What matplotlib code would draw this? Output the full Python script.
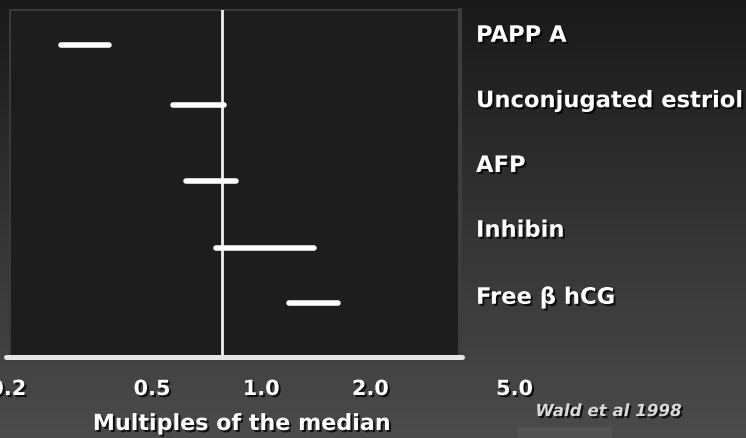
import numpy as np
import matplotlib
matplotlib.use("Agg")
import matplotlib.pyplot as plt
import matplotlib.patheffects as pe
import matplotlib.transforms as mtrans
from matplotlib.patches import Rectangle
from matplotlib.colors import LinearSegmentedColormap

# ---- data ----
markers = ["PAPP A", "Unconjugated estriol", "AFP", "Inhibin", "Free β hCG"]
low_mom = [0.28, 0.57, 0.62, 0.75, 1.19]
high_mom = [0.38, 0.79, 0.85, 1.40, 1.63]
bar_rows = [5.40, 4.35, 3.05, 1.88, 0.94]
label_rows = [5.45, 4.32, 3.20, 2.08, 0.92]
median_ref = 0.78
tick_values = [0.2, 0.5, 1.0, 2.0, 5.0]
tick_labels = ["0.2", "0.5", "1.0", "2.0", "5.0"]
xlabel = "Multiples of the median"
source = "Wald et al 1998"

plt.rcParams['font.family'] = ['DejaVu Sans']

fig = plt.figure(figsize=(7.46, 4.39), dpi=100)

# background gradient
bg = fig.add_axes([0, 0, 1, 1], zorder=-10)
grad = np.linspace(0, 1, 256).reshape(-1, 1)
cmap = LinearSegmentedColormap.from_list("bg", ["#191919", "#333333", "#4b4b4b"])
bg.imshow(grad, aspect='auto', cmap=cmap, extent=[0, 1, 0, 1], origin='upper')
bg.axis('off')
bg.add_patch(Rectangle((518 / 746, 0), 94 / 746, 11 / 439, transform=bg.transAxes,
                       facecolor="#525252", edgecolor='none'))

ax = fig.add_axes([10 / 746, (439 - 358) / 439, 450 / 746, 347 / 439])
ax.set_facecolor("#1d1d1d")
ax.set_xscale('log')
ax.set_xlim(0.2028, 3.535)
ax.set_ylim(0, 6)
ax.set_xticks([])
ax.set_yticks([])
ax.minorticks_off()
for s in ax.spines.values():
    s.set_color("#3a3a3a")
    s.set_linewidth(1.5)
ax.spines['right'].set_linewidth(3)
ax.spines['right'].set_color("#3d3d3d")
ax.spines['bottom'].set_visible(False)

# median reference line
ax.axvline(median_ref, color="#eeeeee", lw=2.0, zorder=3)

# bars
for lo, hi, y in zip(low_mom, high_mom, bar_rows):
    ax.plot([lo, hi], [y, y], color="white", lw=4.0, solid_capstyle='round', zorder=4)

# bottom axis line
ax.plot([-0.008, 1.004], [0, 0], transform=ax.transAxes, color="#e6e6e6", lw=3.6,
        solid_capstyle='round', clip_on=False, zorder=5)

shadow = [pe.withSimplePatchShadow(offset=(1.5, -1.5), shadow_rgbFace='black', alpha=0.75)]

# tick labels
trans = mtrans.blended_transform_factory(ax.transData, ax.transAxes)
for v, t in zip(tick_values, tick_labels):
    ax.text(v, -0.1095, t, transform=trans, ha='center', va='baseline', fontsize=15,
            fontweight='bold', color='white', clip_on=False, path_effects=shadow)

# category labels
trans2 = mtrans.blended_transform_factory(ax.transAxes, ax.transData)
for name, y in zip(markers, label_rows):
    ax.text(1.0356, y, name, transform=trans2, ha='left', va='baseline', fontsize=16.3,
            fontweight='bold', color='white', clip_on=False, path_effects=shadow)

fig.text(242 / 746, (439 - 431) / 439, xlabel, ha='center', va='baseline', fontsize=16,
         fontweight='bold', color='white', path_effects=shadow)
fig.text(608.5 / 746, (439 - 417) / 439, source, ha='center', va='baseline', fontsize=12,
         fontweight='bold', fontstyle='italic', color='#d8d8d8', path_effects=shadow)

fig.savefig("out.png", dpi=100, facecolor=fig.get_facecolor())
